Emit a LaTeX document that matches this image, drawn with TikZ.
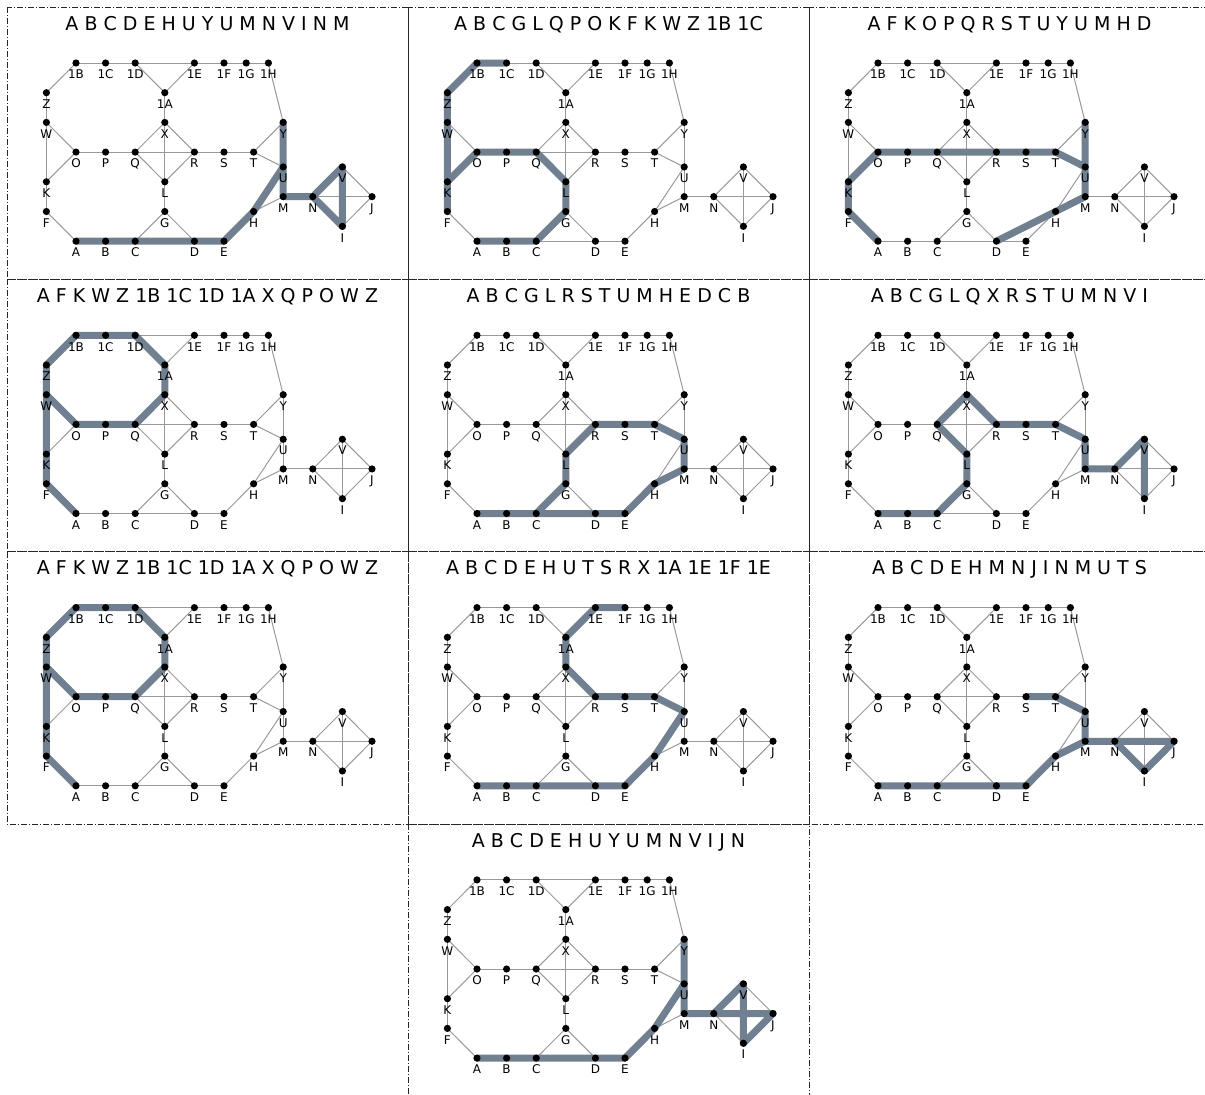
\documentclass[tikz,border=0pt]{standalone}
\usepackage{fontspec}
\setmainfont{DejaVu Sans}
\usepackage{xcolor}
\definecolor{pathgray}{RGB}{112,128,144}
\usepackage{tikz}
\pgfdeclarelayer{edgelayer}
\pgfdeclarelayer{pathlayer}
\pgfsetlayers{edgelayer,pathlayer,main}
\tikzset{
  vtx/.style   ={circle, fill=black, inner sep=0pt, minimum size=7.2pt},
  lbl/.style   ={anchor=base, inner sep=0pt, font=\fontsize{12}{14}\selectfont},
  ttl/.style   ={anchor=base, inner sep=0pt, font=\fontsize{19}{22}\selectfont},
  lnk/.style   ={draw=black!40, line width=1pt},
  hl/.style    ={draw=pathgray, line width=7pt, line join=round},
  pframe/.style={draw=black!85, line width=0.8pt,
                 dash pattern=on 6pt off 2pt on 1pt off 2pt},
}
\newcommand{\drawgraph}{%
  \foreach \n/\i/\j in {1B/0/0, 1C/1/0, 1D/2/0, 1E/4/0, 1F/5/0, 1G/5.75/0, 1H/6.5/0,
      Z/-1/1, 1A/3/1, W/-1/2, X/3/2, Y/7/2,
      O/0/3, P/1/3, Q/2/3, R/4/3, S/5/3, T/6/3, U/7/3.5, V/9/3.5,
      K/-1/4, L/3/4, M/7/4.5, N/8/4.5, J/10/4.5,
      F/-1/5, G/3/5, H/6/5, I/9/5.5,
      A/0/6, B/1/6, C/2/6, D/4/6, E/5/6} {
    \node[vtx] (\n) at (76+29.6*\i, 63+29.7*\j) {};
    \node[lbl] (\n-lab) at (76+29.6*\i, 78.7+29.7*\j) {\n};
  }
  \begin{pgfonlayer}{edgelayer}
    \foreach \u/\v in {1B/1C, 1C/1D, 1D/1E, 1E/1F, 1F/1G, 1G/1H,
        1B/Z, Z/W, W/K, K/F, F/A, 1D/1A, 1A/1E, 1A/X, 1H/Y,
        W/O, O/K, O/P, P/Q, Q/R, R/S, S/T,
        Q/X, X/R, Q/L, L/R, X/L,
        T/Y, T/U, Y/U, U/M, U/H, H/M,
        M/N, N/V, N/I, N/J, V/J, I/J, V/I,
        A/B, B/C, C/D, D/E, C/G, G/D, G/L, E/H}
      \draw[lnk] (\u.center) -- (\v.center);
  \end{pgfonlayer}
}
\newcommand{\hlpath}[2]{%
  \begin{pgfonlayer}{pathlayer}
    \draw[hl] (#1.center) \foreach \v in {#2} { -- (\v.center) };
  \end{pgfonlayer}
}
% panel: name, column, row, title, first vertex, rest of the walk
\newcommand{\panel}[6]{%
  \begin{scope}[shift={(401*#2,272.3*#3)}, name prefix=#1-]
    \draw[pframe] (7,7) rectangle (408,279.3);
    \node[ttl] (title) at (207.5,30.3) {#4};
    \drawgraph
    \hlpath{#5}{#6}
  \end{scope}
}

\begin{document}
\begin{tikzpicture}[x=1pt, y=-1pt]
  \useasboundingbox (0,0) rectangle (1205,1095);
  \clip (0,0) rectangle (1205,1095);
  \panel{p1}{0}{0}{A B C D E H U Y U M N V I N M}{A}{B,C,D,E,H,U,Y,U,M,N,V,I,N,M}
  \panel{p2}{1}{0}{A B C G L Q P O K F K W Z 1B 1C}{A}{B,C,G,L,Q,P,O,K,F,K,W,Z,1B,1C}
  \panel{p3}{2}{0}{A F K O P Q R S T U Y U M H D}{A}{F,K,O,P,Q,R,S,T,U,Y,U,M,H,D}
  \panel{p4}{0}{1}{A F K W Z 1B 1C 1D 1A X Q P O W Z}{A}{F,K,W,Z,1B,1C,1D,1A,X,Q,P,O,W,Z}
  \panel{p5}{1}{1}{A B C G L R S T U M H E D C B}{A}{B,C,G,L,R,S,T,U,M,H,E,D,C,B}
  \panel{p6}{2}{1}{A B C G L Q X R S T U M N V I}{A}{B,C,G,L,Q,X,R,S,T,U,M,N,V,I}
  \panel{p7}{0}{2}{A F K W Z 1B 1C 1D 1A X Q P O W Z}{A}{F,K,W,Z,1B,1C,1D,1A,X,Q,P,O,W,Z}
  \panel{p8}{1}{2}{A B C D E H U T S R X 1A 1E 1F 1E}{A}{B,C,D,E,H,U,T,S,R,X,1A,1E,1F,1E}
  \panel{p9}{2}{2}{A B C D E H M N J I N M U T S}{A}{B,C,D,E,H,M,N,J,I,N,M,U,T,S}
  \panel{p10}{1}{3}{A B C D E H U Y U M N V I J N}{A}{B,C,D,E,H,U,Y,U,M,N,V,I,J,N}
\end{tikzpicture}
\end{document}
